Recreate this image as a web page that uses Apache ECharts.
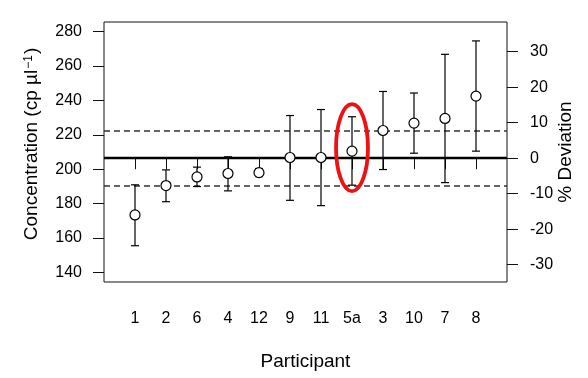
<!DOCTYPE html>
<html><head><meta charset="utf-8">
<script src="https://cdn.jsdelivr.net/npm/echarts@6/dist/echarts.min.js"></script>
<style>html,body{margin:0;padding:0;background:#fff}#c{width:588px;height:378px}</style>
</head><body><div id="c"></div>
<script>
// ---- data ----
const categories = ['1','2','6','4','12','9','11','5a','3','10','7','8'];
const means  = [173.4, 190.5, 195.5, 197.5, 198.0, 206.8, 206.8, 210.5, 222.5, 226.8, 229.5, 242.5];
const lowers = [155.5, 181.1, 189.9, 187.4, 195.7, 181.9, 178.8, 190.7, 199.8, 209.3, 192.2, 210.5];
const uppers = [190.9, 199.6, 201.2, 207.2, 200.4, 231.2, 234.7, 230.5, 245.2, 244.3, 266.8, 274.6];
const referenceValue = 206.4;
const limitValues = [222.5, 190.5];
const leftTicks = [140, 160, 180, 200, 220, 240, 260, 280];
const rightTicks = [-30, -20, -10, 0, 10, 20, 30];
const highlightCategory = '5a';
const highlightCentre = 212.5;

// ---- layout / style ----
const FONT = "'Liberation Sans', Arial, Helvetica, sans-serif";
const yMin = 134.4, yMax = 285.6;
const dev = v => (v / referenceValue - 1) * 100;
const xPos = categories.map((c, i) => i + 1);

const chart = echarts.init(document.getElementById('c'), null, {renderer: 'canvas'});

const pointData = means.map((m, i) => [xPos[i], m]);
const barData = means.map((m, i) => [xPos[i], lowers[i], uppers[i]]);
const hiIdx = categories.indexOf(highlightCategory);

chart.setOption({
  animation: false,
  backgroundColor: '#fff',
  grid: {left: 104, right: 81, top: 22, bottom: 96, show: true, borderColor: '#111', borderWidth: 1, backgroundColor: 'transparent'},
  xAxis: {
    type: 'value', min: 0, max: 13,
    axisLine: {show: false},
    splitLine: {show: false},
    axisTick: {show: true, customValues: xPos, length: 11, lineStyle: {color: '#111', width: 1}},
    axisLabel: {customValues: xPos, formatter: v => categories[Math.round(v) - 1] || '', margin: 29, fontSize: 16, color: '#000', fontFamily: FONT},
    name: 'Participant', nameLocation: 'middle', nameGap: 70,
    nameTextStyle: {fontSize: 19, color: '#000', fontFamily: FONT}
  },
  yAxis: [{
    type: 'value', min: yMin, max: yMax, position: 'left',
    axisLine: {show: false}, splitLine: {show: false},
    axisTick: {show: true, customValues: leftTicks, length: 11, lineStyle: {color: '#111'}},
    axisLabel: {customValues: leftTicks, margin: 22, fontSize: 16, color: '#000', fontFamily: FONT}
  }, {
    type: 'value', min: dev(yMin), max: dev(yMax), position: 'right',
    axisLine: {show: false}, splitLine: {show: false},
    axisTick: {show: true, customValues: rightTicks, length: 11, lineStyle: {color: '#111'}},
    axisLabel: {customValues: rightTicks, margin: 23, fontSize: 16, color: '#000', fontFamily: FONT}
  }],
  graphic: [{
    type: 'text', x: 32, y: 144, rotation: Math.PI / 2,
    style: {
      text: '{m|Concentration (cp µl}{sup|−1}{m|)}',
      rich: {
        m: {fontSize: 19, lineHeight: 24, fontFamily: FONT, fill: '#000', verticalAlign: 'middle'},
        sup: {fontSize: 12, lineHeight: 12, padding: [0, 1, 9, 1], fontFamily: FONT, fill: '#000', verticalAlign: 'bottom'}
      },
      fontSize: 19, fontFamily: FONT, fill: '#000', align: 'center', verticalAlign: 'middle'
    }
  }, {
    type: 'text', x: 566, y: 152, rotation: Math.PI / 2,
    style: {text: '% Deviation', fontSize: 19, fontFamily: FONT, fill: '#000', align: 'center', verticalAlign: 'middle'}
  }],
  series: [{
    type: 'custom', name: 'errors', z: 3,
    data: barData,
    renderItem: (params, api) => {
      const x = api.value(0);
      const top = api.coord([x, api.value(2)]);
      const bot = api.coord([x, api.value(1)]);
      const w = 4;
      const st = {stroke: '#000', lineWidth: 1.2};
      return {type: 'group', children: [
        {type: 'line', shape: {x1: top[0], y1: top[1], x2: bot[0], y2: bot[1]}, style: st},
        {type: 'line', shape: {x1: top[0] - w, y1: top[1], x2: top[0] + w, y2: top[1]}, style: st},
        {type: 'line', shape: {x1: bot[0] - w, y1: bot[1], x2: bot[0] + w, y2: bot[1]}, style: st}
      ]};
    },
    markLine: {
      silent: true, symbol: 'none', label: {show: false}, z: 1,
      data: [
        {yAxis: referenceValue, lineStyle: {color: '#000', width: 2.4, type: 'solid'}},
        ...limitValues.map(v => ({yAxis: v, lineStyle: {color: '#333', width: 1.5, type: [6, 4]}}))
      ]
    }
  }, {
    type: 'scatter', name: 'mean', z: 4,
    data: pointData,
    symbol: 'circle', symbolSize: 10,
    itemStyle: {color: '#fff', borderColor: '#000', borderWidth: 1.2, opacity: 1}
  }, {
    type: 'custom', name: 'highlight', z: 5,
    data: [[xPos[hiIdx], highlightCentre]],
    renderItem: (params, api) => {
      const c = api.coord([api.value(0), api.value(1)]);
      const s = api.size([0.515, 25.3]);
      return {type: 'ellipse', shape: {cx: c[0], cy: c[1], rx: s[0], ry: s[1]},
        style: {fill: 'none', stroke: '#ee1111', lineWidth: 3.8}};
    }
  }]
});
</script></body></html>
